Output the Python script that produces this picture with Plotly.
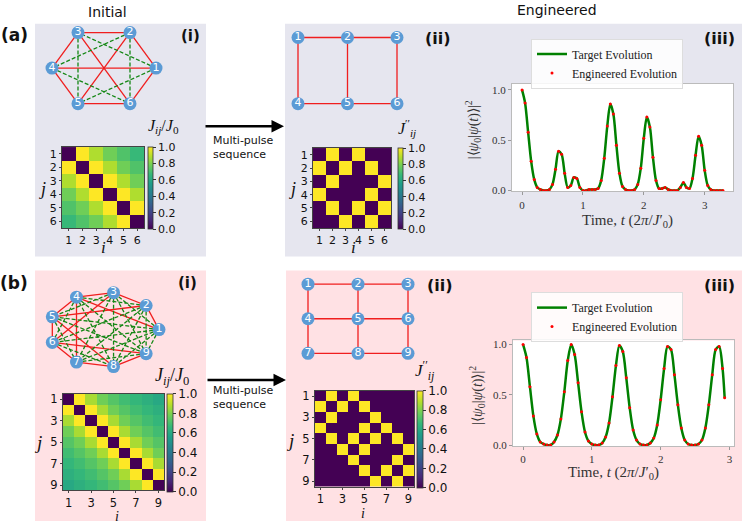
import plotly.graph_objects as go
import math

W, H = 747, 529


def fx(x):
    return x / W


def fy(y):
    return 1 - y / H


# ---------------- data ----------------
nodes6 = [1, 2, 3, 4, 5, 6]
nodes9 = [1, 2, 3, 4, 5, 6, 7, 8, 9]
# initial coupling J_ij/J_0 as a function of |i-j|
J_dist_6 = [0.0, 1.0, 0.88, 0.78, 0.72, 0.67]
J_dist_9 = [0.0, 1.0, 0.87, 0.78, 0.73, 0.69, 0.66, 0.63, 0.60]
# bonds drawn solid red in the initial graphs (all other pairs: green dashed)
initial_red_6 = [(1, 2), (2, 3), (3, 4), (4, 5), (5, 6), (1, 6), (1, 4), (2, 5), (3, 6)]
initial_red_9 = [(1, 2), (2, 3), (3, 4), (4, 5), (5, 6), (6, 7), (7, 8), (8, 9),
                 (1, 4), (2, 5), (3, 6), (4, 7), (5, 8), (6, 9)]
# engineered (target) lattice bonds
target_edges_6 = [(1, 2), (2, 3), (4, 5), (5, 6), (1, 4), (2, 5), (3, 6)]
target_edges_9 = [(1, 2), (2, 3), (4, 5), (5, 6), (7, 8), (8, 9),
                  (1, 4), (2, 5), (3, 6), (4, 7), (5, 8), (6, 9)]
heat_ticks_6 = [1, 2, 3, 4, 5, 6]
heat_ticks_9 = [1, 3, 5, 7, 9]
cbar_ticks = [0.0, 0.2, 0.4, 0.6, 0.8, 1.0]
cbar_labels = ["0.0", "0.2", "0.4", "0.6", "0.8", "1.0"]

t_a = [0.00, 0.05, 0.10, 0.15, 0.20, 0.25, 0.30, 0.35, 0.40, 0.45,
       0.50, 0.55, 0.60, 0.65, 0.70, 0.75, 0.80, 0.85, 0.90, 0.95,
       1.00, 1.05, 1.10, 1.15, 1.20, 1.25, 1.30, 1.35, 1.40, 1.45,
       1.50, 1.55, 1.60, 1.65, 1.70, 1.75, 1.80, 1.85, 1.90, 1.95,
       2.00, 2.05, 2.10, 2.15, 2.20, 2.25, 2.30, 2.35, 2.40, 2.45,
       2.50, 2.55, 2.60, 2.65, 2.70, 2.75, 2.80, 2.85, 2.90, 2.95,
       3.00, 3.05, 3.10, 3.15, 3.20, 3.25, 3.30]
y_a = [1.00, 0.87, 0.58, 0.29, 0.11, 0.03, 0.01, 0.00, 0.00, 0.01,
       0.06, 0.21, 0.39, 0.36, 0.17, 0.03, 0.05, 0.13, 0.12, 0.03,
       0.00, 0.00, 0.01, 0.01, 0.01, 0.02, 0.10, 0.32, 0.64, 0.86,
       0.76, 0.45, 0.17, 0.04, 0.01, 0.00, 0.00, 0.01, 0.06, 0.22,
       0.52, 0.73, 0.63, 0.33, 0.10, 0.02, 0.02, 0.03, 0.01, 0.00,
       0.00, 0.00, 0.03, 0.08, 0.03, 0.02, 0.12, 0.35, 0.54, 0.45,
       0.20, 0.05, 0.01, 0.00, 0.00, 0.00, 0.00]

t_b = [0.00, 0.05, 0.10, 0.15, 0.20, 0.25, 0.30, 0.35, 0.40, 0.45,
       0.50, 0.55, 0.60, 0.65, 0.70, 0.75, 0.80, 0.85, 0.90, 0.95,
       1.00, 1.05, 1.10, 1.15, 1.20, 1.25, 1.30, 1.35, 1.40, 1.45,
       1.50, 1.55, 1.60, 1.65, 1.70, 1.75, 1.80, 1.85, 1.90, 1.95,
       2.00, 2.05, 2.10, 2.15, 2.20, 2.25, 2.30, 2.35, 2.40, 2.45,
       2.50, 2.55, 2.60, 2.65, 2.70, 2.75, 2.80, 2.85, 2.90, 2.93]
y_b = [1.00, 0.87, 0.58, 0.29, 0.11, 0.03, 0.01, 0.00, 0.00, 0.03,
       0.10, 0.26, 0.53, 0.84, 1.00, 0.90, 0.62, 0.33, 0.13, 0.04,
       0.01, 0.00, 0.00, 0.02, 0.08, 0.22, 0.48, 0.79, 0.99, 0.93,
       0.67, 0.37, 0.15, 0.05, 0.01, 0.00, 0.00, 0.02, 0.07, 0.20,
       0.45, 0.76, 0.98, 0.95, 0.70, 0.40, 0.17, 0.05, 0.01, 0.00,
       0.00, 0.01, 0.05, 0.17, 0.40, 0.70, 0.95, 0.98, 0.76, 0.47]

time_ticks = [0, 1, 2, 3]
prob_ticks = [0.0, 0.5, 1.0]
prob_labels = ["0.0", "0.5", "1.0"]

# ---------------- styles ----------------
GRAY_BG = "rgb(230,230,239)"
PINK_BG = "rgb(255,225,228)"
NODE_C = "rgb(91,155,213)"
RED = "rgb(240,30,30)"
GREEN = "rgb(20,135,20)"
SANS = "DejaVu Sans"
SERIF = "Liberation Serif"


def coupling_matrix(nodes, jd):
    return [[jd[abs(i - j)] for i in nodes] for j in nodes]


def adjacency(nodes, edges):
    es = set(edges)
    return [[1.0 if ((min(i, j), max(i, j)) in es) else 0.0 for i in nodes] for j in nodes]


J6 = coupling_matrix(nodes6, J_dist_6)
J9 = coupling_matrix(nodes9, J_dist_9)
A6 = adjacency(nodes6, target_edges_6)
A9 = adjacency(nodes9, target_edges_9)


def ellipse_pos(nodes, cx, cy, rx, ry):
    n = len(nodes)
    pos = {}
    for k in nodes:
        a = 2 * math.pi * (k - 1) / n
        pos[k] = (cx + rx * math.cos(a), cy - ry * math.sin(a))
    return pos


def grid_pos(nodes, x0, y0, dx, dy, ncol=3):
    return {k: (x0 + dx * ((k - 1) % ncol), y0 + dy * ((k - 1) // ncol)) for k in nodes}


pos_a1 = ellipse_pos(nodes6, 104, 67, 52, 41.6)
pos_b1 = ellipse_pos(nodes9, 104, 332, 55, 38)
pos_a2 = grid_pos(nodes6, 298, 36, 49.5, 67)
pos_b2 = grid_pos(nodes9, 308, 286, 50, 35)

fig = go.Figure()


def add_edges(pos, edges, color, dash):
    xs, ys = [], []
    for (i, j) in edges:
        xs += [pos[i][0], pos[j][0], None]
        ys += [pos[i][1], pos[j][1], None]
    fig.add_trace(go.Scatter(x=xs, y=ys, mode="lines", xaxis="x7", yaxis="y7",
                             line=dict(color=color, width=1.3, dash=dash),
                             showlegend=False, hoverinfo="skip"))


def add_nodes(pos, nodes):
    fig.add_trace(go.Scatter(x=[pos[k][0] for k in nodes], y=[pos[k][1] for k in nodes],
                             mode="markers+text", text=[str(k) for k in nodes],
                             textposition="middle center",
                             textfont=dict(color="white", size=11, family=SANS),
                             marker=dict(size=13, color=NODE_C, line=dict(width=0)),
                             xaxis="x7", yaxis="y7", showlegend=False, hoverinfo="skip"))


def other_pairs(nodes, red):
    rs = set(red)
    return [(a, b) for a in nodes for b in nodes if b > a and (a, b) not in rs]


for pos, nodes, red in [(pos_a1, nodes6, initial_red_6), (pos_b1, nodes9, initial_red_9)]:
    add_edges(pos, red, RED, "solid")
    add_edges(pos, other_pairs(nodes, red), GREEN, "4px,2px")
    add_nodes(pos, nodes)

for pos, nodes, edges in [(pos_a2, nodes6, target_edges_6), (pos_b2, nodes9, target_edges_9)]:
    add_edges(pos, edges, RED, "solid")
    add_nodes(pos, nodes)


# heatmaps
def cbar(x, ytop, length, thick, fs):
    return dict(x=fx(x), xanchor="left", y=fy(ytop), yanchor="top",
                len=length, lenmode="pixels", thickness=thick, thicknessmode="pixels",
                xpad=0, ypad=0, outlinewidth=0.8, outlinecolor="#333",
                tickvals=cbar_ticks, ticktext=cbar_labels, ticks="outside", ticklen=3,
                tickcolor="#333", tickfont=dict(size=fs, family=SANS, color="#111"))


fig.add_trace(go.Heatmap(z=J6, x=nodes6, y=nodes6, colorscale="Viridis", zmin=0, zmax=1,
                         xaxis="x", yaxis="y", colorbar=cbar(148, 147, 82, 5, 11), hoverinfo="skip"))
fig.add_trace(go.Heatmap(z=A6, x=nodes6, y=nodes6, colorscale="Viridis", zmin=0, zmax=1,
                         xaxis="x2", yaxis="y2", colorbar=cbar(398, 148, 81, 5, 11), hoverinfo="skip"))
fig.add_trace(go.Heatmap(z=J9, x=nodes9, y=nodes9, colorscale="Viridis", zmin=0, zmax=1,
                         xaxis="x4", yaxis="y4", colorbar=cbar(167, 397, 98, 6, 12), hoverinfo="skip"))
fig.add_trace(go.Heatmap(z=A9, x=nodes9, y=nodes9, colorscale="Viridis", zmin=0, zmax=1,
                         xaxis="x5", yaxis="y5", colorbar=cbar(417, 394, 97, 6, 12), hoverinfo="skip"))

# line plots
for t, y, xa, ya, lg in [(t_a, y_a, "x3", "y3", "legend"), (t_b, y_b, "x6", "y6", "legend2")]:
    fig.add_trace(go.Scatter(x=t, y=y, mode="lines", name="Target Evolution",
                             line=dict(color="#008000", width=2.5, shape="spline", smoothing=0.8),
                             xaxis=xa, yaxis=ya, legend=lg, hoverinfo="skip"))
    fig.add_trace(go.Scatter(x=t, y=y, mode="markers", name="Engineered Evolution",
                             marker=dict(color="red", size=3),
                             xaxis=xa, yaxis=ya, legend=lg, hoverinfo="skip"))


def heat_axes(x0, x1, y0, y1, n, ticks, fs):
    xa = dict(domain=[fx(x0), fx(x1)], range=[0.5, n + 0.5], tickvals=ticks,
              showline=True, mirror=True, linecolor="#444", linewidth=1,
              ticks="outside", ticklen=2, tickcolor="#444", showgrid=False, zeroline=False,
              tickfont=dict(size=fs, family=SANS, color="#111"))
    ya = dict(domain=[fy(y1), fy(y0)], range=[n + 0.5, 0.5], tickvals=ticks,
              showline=True, mirror=True, linecolor="#444", linewidth=1,
              ticks="outside", ticklen=2, tickcolor="#444", showgrid=False, zeroline=False,
              tickfont=dict(size=fs, family=SANS, color="#111"))
    return xa, ya


def line_axes(x0, x1, y0, y1, xr, yr):
    common = dict(showline=True, mirror=True, linecolor="#bbb", linewidth=1,
                  ticks="outside", ticklen=3, tickcolor="#999", showgrid=False, zeroline=False,
                  tickfont=dict(size=11, family=SERIF, color="#333"))
    xa = dict(domain=[fx(x0), fx(x1)], range=xr, tickvals=time_ticks, **common)
    ya = dict(domain=[fy(y1), fy(y0)], range=yr, tickvals=prob_ticks, ticktext=prob_labels, **common)
    return xa, ya


ax1 = heat_axes(62, 144, 147, 229, 6, heat_ticks_6, 11)
ax2 = heat_axes(313, 391, 148, 229, 6, heat_ticks_6, 11)
ax3 = line_axes(512, 733, 83, 192, [-0.165, 3.465], [-0.01, 1.06])
ax4 = heat_axes(63, 164, 397, 495, 9, heat_ticks_9, 11.5)
ax5 = heat_axes(315, 414, 394, 491, 9, heat_ticks_9, 11.5)
ax6 = line_axes(513, 734, 343, 450, [-0.146, 3.066], [-0.01, 1.04])

layout = dict(width=W, height=H, margin=dict(l=0, r=0, t=0, b=0),
              paper_bgcolor="white", plot_bgcolor="rgba(0,0,0,0)",
              font=dict(family=SANS, color="#111"), showlegend=True)
for k, (xa, ya) in enumerate([ax1, ax2, ax3, ax4, ax5, ax6], start=1):
    s = "" if k == 1 else str(k)
    xa = dict(xa, anchor="y" + s)
    ya = dict(ya, anchor="x" + s)
    layout["xaxis" + s] = xa
    layout["yaxis" + s] = ya
layout["xaxis7"] = dict(domain=[0, 1], range=[0, W], visible=False, anchor="y7")
layout["yaxis7"] = dict(domain=[0, 1], range=[H, 0], visible=False, anchor="x7")

leg_common = dict(xanchor="left", yanchor="top", bgcolor="rgba(255,255,255,0.85)",
                  bordercolor="#dddddd", borderwidth=1, tracegroupgap=0,
                  font=dict(family=SERIF, size=12, color="#222"))
layout["legend"] = dict(x=fx(531), y=fy(37), **leg_common)
layout["legend2"] = dict(x=fx(531), y=fy(294), **leg_common)
fig.update_layout(**layout)

# background boxes
shapes = []
for (x0, y0, x1, y1, c) in [(35, 22, 206, 258, GRAY_BG), (285, 22, 742, 258, GRAY_BG),
                            (35, 272, 206, 526, PINK_BG), (286, 272, 742, 526, PINK_BG)]:
    shapes.append(dict(type="rect", xref="paper", yref="paper", x0=fx(x0), x1=fx(x1),
                       y0=fy(y1), y1=fy(y0), fillcolor=c, line=dict(width=0), layer="below"))
for a in ["x3", "x6"]:
    ya = "y" + a[1:]
    shapes.append(dict(type="rect", xref=a + " domain", yref=ya + " domain", x0=0, x1=1, y0=0, y1=1,
                       fillcolor="white", line=dict(width=0), layer="below"))
fig.update_layout(shapes=shapes)

ann = []


def txt(s, x, y, size, family=SANS, angle=0, xanchor="center", align="center", color="#111"):
    ann.append(dict(text=s, x=fx(x), y=fy(y), xref="paper", yref="paper", showarrow=False,
                    xanchor=xanchor, yanchor="middle", align=align, textangle=angle,
                    font=dict(size=size, family=family, color=color)))


txt("Initial", 107, 10, 14)
txt("Engineered", 557, 8, 14)
txt("<b>(a)</b>", 14, 33, 17)
txt("<b>(b)</b>", 14, 285, 17)
txt("<b>(i)</b>", 190, 34, 15)
txt("<b>(i)</b>", 187, 285, 15)
txt("<b>(ii)</b>", 438, 37, 16)
txt("<b>(ii)</b>", 440, 287, 16)
txt("<b>(iii)</b>", 719, 37, 16)
txt("<b>(iii)</b>", 719, 287, 16)
txt("Multi-pulse<br>sequence", 211, 147, 11, xanchor="left", align="left")
txt("Multi-pulse<br>sequence", 211, 401, 11, xanchor="left", align="left")

txt("<i>J<sub>ij</sub></i>/<i>J</i><sub>0</sub>", 163, 126, 16, SERIF)
txt("<i>J<sub>ij</sub></i>/<i>J</i><sub>0</sub>", 172, 380, 18, SERIF)
txt("<i>J</i><sup>′′</sup><sub><i>ij</i></sub>", 407, 128, 16, SERIF)
txt("<i>J</i><sup>′′</sup><sub><i>ij</i></sub>", 425, 373, 17, SERIF)

for (x, y, s, fs) in [(103, 249, "i", 17), (42, 190, "j", 18), (353, 249, "i", 17), (292, 190, "j", 18),
                      (117, 521, "i", 14), (38, 446, "j", 19), (363, 518, "i", 14), (290, 444, "j", 19)]:
    txt("<i>%s</i>" % s, x, y, fs, SERIF)

ylab = "|⟨<i>ψ</i><sub>0</sub>|<i>ψ</i>(<i>t</i>)⟩|<sup>2</sup>"
xlab = "Time, <i>t</i> (2<i>π</i>/<i>J</i>′<sub>0</sub>)"
txt(ylab, 473, 130, 14, SERIF, angle=-90, color="#333")
txt(ylab, 477, 398, 14, SERIF, angle=-90, color="#333")
txt(xlab, 627, 222, 15, SERIF, color="#333")
txt(xlab, 613, 477, 15, SERIF, color="#333")

for (xt, xh, y) in [(204, 284, 126), (206, 286, 383)]:
    ann.append(dict(text="", x=fx(xh), y=fy(y), ax=-(xh - xt), ay=0, xref="paper", yref="paper",
                    axref="pixel", ayref="pixel", showarrow=True, arrowhead=2, arrowsize=1,
                    arrowwidth=2.5, arrowcolor="black"))

fig.update_layout(annotations=ann)
fig.write_html("out.html", config={"displayModeBar": False},
               post_script="document.body.style.margin='0';document.body.style.overflow='hidden';")
